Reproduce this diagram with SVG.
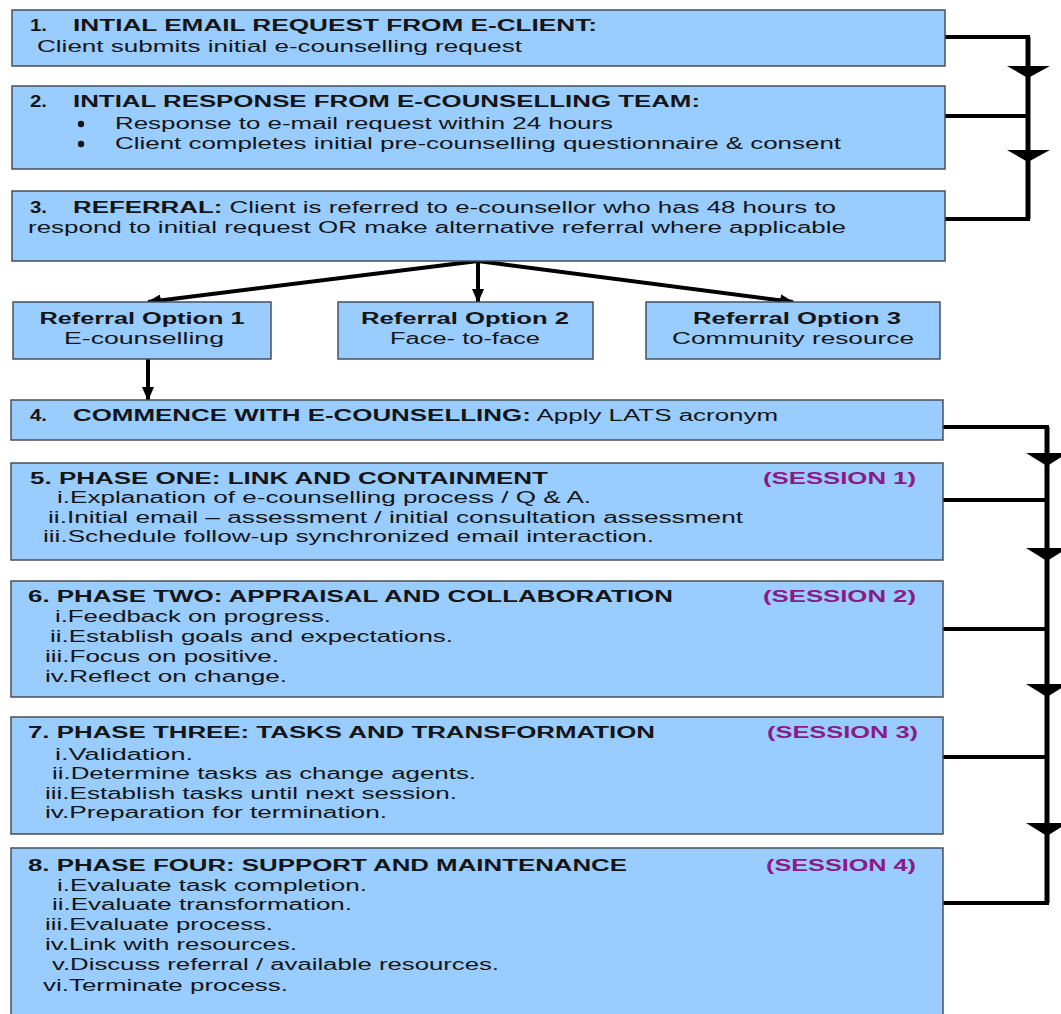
<svg xmlns="http://www.w3.org/2000/svg" width="1061" height="1014" viewBox="0 0 1061 1014">
<defs>
<style>
.box{fill:#99CCFF;stroke:#4a4f57;stroke-width:1.5}
text{font-family:"Liberation Sans",Arial,sans-serif;font-size:16px;fill:#151515}
.b{font-weight:bold}
.n{font-weight:bold;font-size:17px}
.s{font-weight:bold;fill:#8A1A86}
.c{text-anchor:middle}
.dot{fill:#151515}
.ln{stroke:#000;stroke-width:4;fill:none}
.vl{stroke:#000;stroke-width:5;fill:none}
.hd{fill:#000}
</style>
<marker id="ah" markerUnits="userSpaceOnUse" markerWidth="14" markerHeight="12" viewBox="0 0 14 12" refX="13" refY="6" orient="auto">
<path d="M0,0 L14,6 L0,12 z" fill="#000"/>
</marker>
</defs>
<rect width="1061" height="1014" fill="#fff"/>

<g id="connectors">
<polyline class="ln" points="945,37 1028,37 1028,219 945,219"/>
<line class="ln" x1="945" y1="116" x2="1028" y2="116"/>
<line class="vl" x1="1028" y1="37" x2="1028" y2="219"/>
<polygon class="hd" points="1007,66 1050,66 1028,78"/>
<polygon class="hd" points="1007,150 1050,150 1028,162"/>

<polyline class="ln" points="943,427 1047,427 1047,903 943,903"/>
<line class="vl" x1="1047" y1="427" x2="1047" y2="903"/>
<line class="ln" x1="943" y1="500" x2="1047" y2="500"/>
<line class="ln" x1="943" y1="629" x2="1047" y2="629"/>
<line class="ln" x1="943" y1="757" x2="1047" y2="757"/>
<polygon class="hd" points="1026,453 1068,453 1047,466"/>
<polygon class="hd" points="1026,548 1068,548 1047,561"/>
<polygon class="hd" points="1026,684 1068,684 1047,697"/>
<polygon class="hd" points="1026,823 1068,823 1047,836"/>

<line class="ln" x1="478" y1="261" x2="148" y2="302" marker-end="url(#ah)"/>
<line class="ln" x1="478" y1="261" x2="478" y2="302" marker-end="url(#ah)"/>
<line class="ln" x1="478" y1="261" x2="793" y2="302" marker-end="url(#ah)"/>
<line class="ln" x1="148" y1="359" x2="148" y2="400" marker-end="url(#ah)"/>
</g>

<g id="n1">
<rect class="box" x="12" y="10" width="933" height="56"/>
<text class="n" x="30" y="31" textLength="17" lengthAdjust="spacingAndGlyphs">1.</text>
<text class="b" x="73" y="31" textLength="524" lengthAdjust="spacingAndGlyphs">INTIAL EMAIL REQUEST FROM E-CLIENT:</text>
<text x="37" y="52" textLength="485" lengthAdjust="spacingAndGlyphs">Client submits initial e-counselling request</text>
</g>

<g id="n2">
<rect class="box" x="12" y="86" width="933" height="83"/>
<text class="n" x="30" y="107" textLength="17" lengthAdjust="spacingAndGlyphs">2.</text>
<text class="b" x="73" y="107" textLength="627" lengthAdjust="spacingAndGlyphs">INTIAL RESPONSE FROM E-COUNSELLING TEAM:</text>
<circle class="dot" cx="81" cy="124" r="3.2"/>
<text x="115" y="129" textLength="498" lengthAdjust="spacingAndGlyphs">Response to e-mail request within 24 hours</text>
<circle class="dot" cx="81" cy="144" r="3.2"/>
<text x="115" y="149" textLength="726" lengthAdjust="spacingAndGlyphs">Client completes initial pre-counselling questionnaire &amp; consent</text>
</g>

<g id="n3">
<rect class="box" x="12" y="191" width="933" height="70"/>
<text class="n" x="30" y="213" textLength="17" lengthAdjust="spacingAndGlyphs">3.</text>
<text x="73" y="213" textLength="763" lengthAdjust="spacingAndGlyphs"><tspan class="b">REFERRAL:</tspan> Client is referred to e-counsellor who has 48 hours to</text>
<text x="28" y="233" textLength="818" lengthAdjust="spacingAndGlyphs">respond to initial request OR make alternative referral where applicable</text>
</g>

<g id="opt1">
<rect class="box" x="13" y="302" width="258" height="57"/>
<text class="b c" x="142" y="324" textLength="205" lengthAdjust="spacingAndGlyphs">Referral Option 1</text>
<text class="c" x="144" y="344" textLength="160" lengthAdjust="spacingAndGlyphs">E-counselling</text>
</g>

<g id="opt2">
<rect class="box" x="338" y="302" width="255" height="57"/>
<text class="b c" x="465" y="324" textLength="208" lengthAdjust="spacingAndGlyphs">Referral Option 2</text>
<text class="c" x="465" y="344" textLength="150" lengthAdjust="spacingAndGlyphs">Face- to-face</text>
</g>

<g id="opt3">
<rect class="box" x="646" y="302" width="294" height="57"/>
<text class="b c" x="797" y="324" textLength="208" lengthAdjust="spacingAndGlyphs">Referral Option 3</text>
<text class="c" x="793" y="344" textLength="242" lengthAdjust="spacingAndGlyphs">Community resource</text>
</g>

<g id="n4">
<rect class="box" x="11" y="400" width="932" height="40"/>
<text class="n" x="30" y="421" textLength="17" lengthAdjust="spacingAndGlyphs">4.</text>
<text x="73" y="421" textLength="705" lengthAdjust="spacingAndGlyphs"><tspan class="b">COMMENCE WITH E-COUNSELLING:</tspan> Apply LATS acronym</text>
</g>

<g id="n5">
<rect class="box" x="11" y="463" width="932" height="97"/>
<text class="b" x="30" y="484" textLength="518" lengthAdjust="spacingAndGlyphs">5. PHASE ONE: LINK AND CONTAINMENT</text>
<text class="s" x="763" y="484" textLength="153" lengthAdjust="spacingAndGlyphs">(SESSION 1)</text>
<text x="57" y="503" textLength="534" lengthAdjust="spacingAndGlyphs">i.Explanation of e-counselling process / Q &amp; A.</text>
<text x="48" y="523" textLength="695" lengthAdjust="spacingAndGlyphs">ii.Initial email – assessment / initial consultation assessment</text>
<text x="43" y="542" textLength="611" lengthAdjust="spacingAndGlyphs">iii.Schedule follow-up synchronized email interaction.</text>
</g>

<g id="n6">
<rect class="box" x="11" y="581" width="932" height="116"/>
<text class="b" x="28" y="602" textLength="645" lengthAdjust="spacingAndGlyphs">6. PHASE TWO: APPRAISAL AND COLLABORATION</text>
<text class="s" x="763" y="602" textLength="153" lengthAdjust="spacingAndGlyphs">(SESSION 2)</text>
<text x="55" y="622" textLength="276" lengthAdjust="spacingAndGlyphs">i.Feedback on progress.</text>
<text x="50" y="642" textLength="403" lengthAdjust="spacingAndGlyphs">ii.Establish goals and expectations.</text>
<text x="45" y="662" textLength="234" lengthAdjust="spacingAndGlyphs">iii.Focus on positive.</text>
<text x="45" y="682" textLength="242" lengthAdjust="spacingAndGlyphs">iv.Reflect on change.</text>
</g>

<g id="n7">
<rect class="box" x="11" y="717" width="932" height="117"/>
<text class="b" x="28" y="738" textLength="627" lengthAdjust="spacingAndGlyphs">7. PHASE THREE: TASKS AND TRANSFORMATION</text>
<text class="s" x="767" y="738" textLength="151" lengthAdjust="spacingAndGlyphs">(SESSION 3)</text>
<text x="55" y="760" textLength="138" lengthAdjust="spacingAndGlyphs">i.Validation.</text>
<text x="52" y="779" textLength="424" lengthAdjust="spacingAndGlyphs">ii.Determine tasks  as change agents.</text>
<text x="45" y="799" textLength="412" lengthAdjust="spacingAndGlyphs">iii.Establish tasks  until next session.</text>
<text x="45" y="818" textLength="342" lengthAdjust="spacingAndGlyphs">iv.Preparation for termination.</text>
</g>

<g id="n8">
<rect class="box" x="11" y="848" width="932" height="175"/>
<text class="b" x="28" y="871" textLength="599" lengthAdjust="spacingAndGlyphs">8. PHASE FOUR: SUPPORT AND MAINTENANCE</text>
<text class="s" x="766" y="871" textLength="150" lengthAdjust="spacingAndGlyphs">(SESSION 4)</text>
<text x="57" y="891" textLength="310" lengthAdjust="spacingAndGlyphs">i.Evaluate task completion.</text>
<text x="52" y="910" textLength="300" lengthAdjust="spacingAndGlyphs">ii.Evaluate transformation.</text>
<text x="45" y="930" textLength="228" lengthAdjust="spacingAndGlyphs">iii.Evaluate process.</text>
<text x="45" y="950" textLength="252" lengthAdjust="spacingAndGlyphs">iv.Link with resources.</text>
<text x="52" y="970" textLength="447" lengthAdjust="spacingAndGlyphs">v.Discuss referral / available resources.</text>
<text x="43" y="991" textLength="245" lengthAdjust="spacingAndGlyphs">vi.Terminate process.</text>
</g>
</svg>
